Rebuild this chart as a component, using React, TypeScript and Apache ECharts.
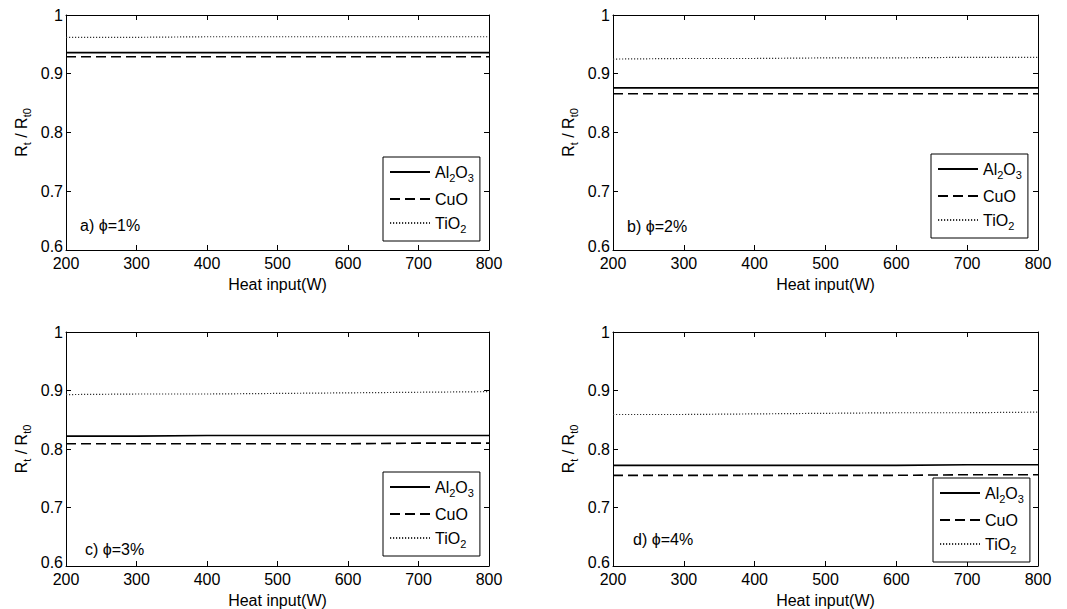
import React, { useEffect, useRef } from "react";
import * as echarts from "echarts";

const HEAT_INPUT = [200, 300, 400, 500, 600, 700, 800];

const AL2O3_A = [0.936, 0.936, 0.936, 0.936, 0.936, 0.936, 0.936];
const CUO_A = [0.929, 0.929, 0.929, 0.929, 0.929, 0.929, 0.929];
const TIO2_A = [0.962, 0.962, 0.963, 0.963, 0.963, 0.963, 0.963];

const AL2O3_B = [0.876, 0.876, 0.876, 0.876, 0.876, 0.876, 0.876];
const CUO_B = [0.866, 0.866, 0.866, 0.866, 0.866, 0.866, 0.866];
const TIO2_B = [0.925, 0.926, 0.926, 0.927, 0.927, 0.928, 0.928];

const AL2O3_C = [0.822, 0.822, 0.823, 0.823, 0.823, 0.823, 0.823];
const CUO_C = [0.809, 0.809, 0.809, 0.809, 0.809, 0.81, 0.81];
const TIO2_C = [0.893, 0.894, 0.894, 0.895, 0.896, 0.897, 0.898];

const AL2O3_D = [0.772, 0.772, 0.772, 0.772, 0.772, 0.773, 0.773];
const CUO_D = [0.755, 0.755, 0.755, 0.755, 0.755, 0.756, 0.756];
const TIO2_D = [0.859, 0.859, 0.86, 0.861, 0.862, 0.862, 0.863];

const PANEL_LABELS = ["a) ϕ=1%", "b) ϕ=2%", "c) ϕ=3%", "d) ϕ=4%"];
const SERIES_NAMES = ["Al2O3", "CuO", "TiO2"];
const LEGEND_RICH: Record<string, string> = {
  Al2O3: "{n|Al}{s|2}{n|O}{s|3}",
  CuO: "{n|CuO}",
  TiO2: "{n|TiO}{s|2}",
};
const X_NAME = "Heat input(W)";
const Y_NAME = "{n|R}{s|t}{n| / R}{s|t0}";

const PANEL_DATA = [
  [AL2O3_A, CUO_A, TIO2_A],
  [AL2O3_B, CUO_B, TIO2_B],
  [AL2O3_C, CUO_C, TIO2_C],
  [AL2O3_D, CUO_D, TIO2_D],
];

const FONT = "'Liberation Sans', Arial, sans-serif";
const INK = "#000";

const GRIDS = [
  { left: 66, top: 15, width: 423, height: 235 },
  { left: 613, top: 15, width: 425, height: 235 },
  { left: 66, top: 332, width: 423, height: 234 },
  { left: 613, top: 332, width: 425, height: 234 },
];
const LEGEND_POS = [
  { left: 383, top: 157 },
  { left: 931, top: 154 },
  { left: 383, top: 472 },
  { left: 933, top: 478 },
];
const LABEL_POS = [
  { x: 80, y: 225 },
  { x: 627, y: 226 },
  { x: 85, y: 549 },
  { x: 633, y: 539 },
];

const rich = {
  n: { fontSize: 16, lineHeight: 22, fontFamily: FONT, color: INK },
  s: { fontSize: 11, lineHeight: 11, verticalAlign: "bottom", fontFamily: FONT, color: INK },
};

const LINE_STYLES = [
  { type: "solid", width: 1.6, color: "#000" },
  { type: [10, 5], width: 1.6, color: "#000" },
  { type: [1.2, 1.8], width: 1.2, color: "#333" },
];

export default function App() {
  const ref = useRef<HTMLDivElement>(null);
  useEffect(() => {
    document.body.style.margin = "0";
    const chart = echarts.init(ref.current!, null, { renderer: "svg" });
    const xAxis: any[] = [];
    const yAxis: any[] = [];
    const series: any[] = [];
    const legend: any[] = [];
    const graphic: any[] = [];
    GRIDS.forEach((g, i) => {
      const baseAxisLine = { show: true, lineStyle: { color: "#000", width: 1 } };
      const tick = { show: true, inside: true, length: 5, lineStyle: { color: "#000" } };
      xAxis.push({
        type: "value",
        gridIndex: i,
        min: 200,
        max: 800,
        interval: 100,
        position: "bottom",
        axisLine: baseAxisLine,
        axisTick: tick,
        splitLine: { show: false },
        axisLabel: { fontSize: 16, fontFamily: FONT, color: INK, margin: 5 },
        name: X_NAME,
        nameLocation: "middle",
        nameGap: 26,
        nameTextStyle: { fontSize: 16, fontFamily: FONT, color: INK },
      });
      xAxis.push({
        type: "value",
        gridIndex: i,
        min: 200,
        max: 800,
        interval: 100,
        position: "top",
        axisLine: baseAxisLine,
        axisTick: tick,
        splitLine: { show: false },
        axisLabel: { show: false },
      });
      yAxis.push({
        type: "value",
        gridIndex: i,
        min: 0.6,
        max: 1,
        interval: 0.1,
        position: "left",
        axisLine: baseAxisLine,
        axisTick: tick,
        splitLine: { show: false },
        axisLabel: {
          fontSize: 16,
          fontFamily: FONT,
          color: INK,
          margin: 3,
          formatter: (v: number) => {
            const t = String(Math.round(v * 10) / 10);
            return v < 0.65 ? "{low|" + t + "}" : t;
          },
          rich: {
            low: { fontSize: 16, fontFamily: FONT, color: INK, padding: [0, 0, 7, 0] },
          },
        },
        name: Y_NAME,
        nameLocation: "middle",
        nameRotate: 90,
        nameGap: 34,
        nameTextStyle: { rich },
      });
      yAxis.push({
        type: "value",
        gridIndex: i,
        min: 0.6,
        max: 1,
        interval: 0.1,
        position: "right",
        axisLine: baseAxisLine,
        axisTick: tick,
        splitLine: { show: false },
        axisLabel: { show: false },
      });
      PANEL_DATA[i].forEach((vals, k) => {
        series.push({
          type: "line",
          name: SERIES_NAMES[k],
          xAxisIndex: i * 2,
          yAxisIndex: i * 2,
          data: HEAT_INPUT.map((x, j) => [x, vals[j]]),
          showSymbol: false,
          symbol: "none",
          lineStyle: LINE_STYLES[k],
          itemStyle: { color: LINE_STYLES[k].color },
          z: 3 - k,
        });
      });
      legend.push({
        orient: "vertical",
        left: LEGEND_POS[i].left,
        top: LEGEND_POS[i].top,
        data: SERIES_NAMES,
        itemWidth: 40,
        itemHeight: 14,
        itemGap: 8,
        padding: [7, 6, 7, 6],
        borderColor: "#000",
        borderWidth: 1,
        backgroundColor: "#fff",
        selectedMode: false,
        itemStyle: { opacity: 0 },
        formatter: (name: string) => LEGEND_RICH[name],
        textStyle: { rich, fontFamily: FONT, color: INK },
      });
      graphic.push({
        type: "text",
        x: LABEL_POS[i].x,
        y: LABEL_POS[i].y,
        style: {
          text: PANEL_LABELS[i],
          fontSize: 16,
          fontFamily: FONT,
          fill: INK,
          verticalAlign: "middle",
        },
      });
    });
    chart.setOption({
      animation: false,
      backgroundColor: "#fff",
      grid: GRIDS,
      xAxis,
      yAxis,
      series,
      legend,
      graphic,
    });
    return () => chart.dispose();
  }, []);
  return <div ref={ref} style={{ width: 1067, height: 609 }} />;
}
